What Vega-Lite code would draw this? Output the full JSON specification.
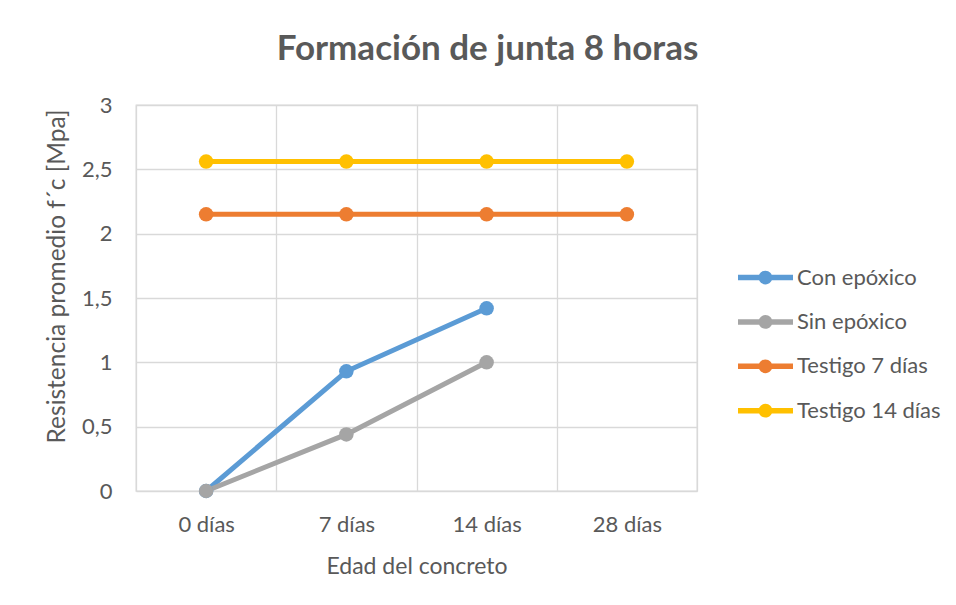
{
  "$schema": "https://vega.github.io/schema/vega-lite/v6.json",
  "width": 561,
  "height": 386,
  "autosize": {"type": "none"},
  "padding": {"left": 136, "top": 105, "right": 259, "bottom": 114},
  "background": "white",
  "title": {
    "text": "Formación de junta 8 horas",
    "font": "Lato",
    "fontSize": 35,
    "fontWeight": "bold",
    "color": "#595959",
    "anchor": "middle",
    "frame": "group",
    "baseline": "alphabetic",
    "dx": 71,
    "dy": 38,
    "offset": 37
  },
  "data": {
    "values": [
      {"serie": "Con epóxico", "edad": "0 días", "valor": 0},
      {"serie": "Con epóxico", "edad": "7 días", "valor": 0.93},
      {"serie": "Con epóxico", "edad": "14 días", "valor": 1.42},
      {"serie": "Sin epóxico", "edad": "0 días", "valor": 0},
      {"serie": "Sin epóxico", "edad": "7 días", "valor": 0.44},
      {"serie": "Sin epóxico", "edad": "14 días", "valor": 1.0},
      {"serie": "Testigo 7 días", "edad": "0 días", "valor": 2.15},
      {"serie": "Testigo 7 días", "edad": "7 días", "valor": 2.15},
      {"serie": "Testigo 7 días", "edad": "14 días", "valor": 2.15},
      {"serie": "Testigo 7 días", "edad": "28 días", "valor": 2.15},
      {"serie": "Testigo 14 días", "edad": "0 días", "valor": 2.56},
      {"serie": "Testigo 14 días", "edad": "7 días", "valor": 2.56},
      {"serie": "Testigo 14 días", "edad": "14 días", "valor": 2.56},
      {"serie": "Testigo 14 días", "edad": "28 días", "valor": 2.56}
    ]
  },
  "mark": {
    "type": "line",
    "strokeWidth": 5,
    "point": {"filled": true, "size": 210, "opacity": 1}
  },
  "encoding": {
    "x": {
      "field": "edad",
      "type": "nominal",
      "sort": ["0 días", "7 días", "14 días", "28 días"],
      "scale": {"paddingInner": 0, "paddingOuter": 0},
      "title": "Edad del concreto",
      "axis": {
        "labelAngle": 0,
        "grid": true,
        "tickBand": "extent",
        "gridColor": "#d9d9d9",
        "gridWidth": 1.3,
        "ticks": false,
        "domain": false,
        "labelFont": "Lato",
        "labelFontSize": 22,
        "labelColor": "#595959",
        "labelPadding": 23,
        "titleFont": "Lato",
        "titleFontSize": 23,
        "titleFontWeight": "normal",
        "titleColor": "#595959",
        "titlePadding": 20
      }
    },
    "y": {
      "field": "valor",
      "type": "quantitative",
      "scale": {"domain": [0, 3], "nice": false},
      "title": "Resistencia promedio f´c [Mpa]",
      "axis": {
        "values": [0, 0.5, 1, 1.5, 2, 2.5, 3],
        "labelExpr": "replace(format(datum.value, '~g'), '.', ',')",
        "grid": true,
        "gridColor": "#d9d9d9",
        "gridWidth": 1.3,
        "ticks": false,
        "domain": false,
        "labelFont": "Lato",
        "labelFontSize": 22,
        "labelColor": "#595959",
        "labelPadding": 24,
        "titleFont": "Lato",
        "titleFontSize": 24.5,
        "titleFontWeight": "normal",
        "titleColor": "#595959",
        "titleX": -79,
        "titleY": 171,
        "titleAngle": 270,
        "titleAlign": "center",
        "titleBaseline": "middle"
      }
    },
    "color": {
      "field": "serie",
      "type": "nominal",
      "scale": {
        "domain": ["Con epóxico", "Sin epóxico", "Testigo 7 días", "Testigo 14 días"],
        "range": ["#5B9BD5", "#A5A5A5", "#ED7D31", "#FFC000"]
      },
      "legend": {
        "title": null,
        "orient": "none",
        "legendX": 602,
        "legendY": 145,
        "padding": 0,
        "rowPadding": 5.4,
        "symbolType": "M-1,-0.1H1V0.1H-1Z M0.25,0 A0.25,0.25 0 1 1 -0.25,0 A0.25,0.25 0 1 1 0.25,0 Z",
        "symbolSize": 3025,
        "symbolStrokeWidth": 0,
        "symbolOpacity": 1,
        "labelFont": "Lato",
        "labelFontSize": 22,
        "labelColor": "#595959",
        "labelOffset": 4
      }
    }
  },
  "config": {
    "view": {"stroke": "#d9d9d9", "strokeWidth": 1.3}
  }
}
